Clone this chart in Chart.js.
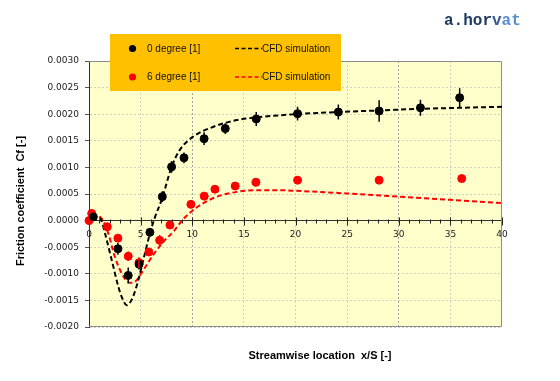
<!DOCTYPE html>
<html><head><meta charset="utf-8">
<script src="https://cdn.jsdelivr.net/npm/chart.js@4"></script>
<style>html,body{margin:0;padding:0;background:#fff;}canvas{display:block;}</style>
</head><body>
<canvas id="c" width="560" height="381"></canvas>
<script>
// ---- data ----
const seriesLabels = ['0 degree [1]', '6 degree [1]', 'CFD simulation', 'CFD simulation'];
const xTitle = 'Streamwise location  x/S [-]';
const yTitle = 'Friction coefficient  Cf [-]';
const logoText = 'a.horvat';

const exp0X = [0.42, 2.8, 3.8, 4.85, 5.9, 7.1, 8.0, 9.2, 11.15, 13.2, 16.2, 20.2, 24.15, 28.1, 32.1, 35.9];
const exp0Y = [0.00007, -0.00053, -0.00103, -0.00082, -0.00022, 0.00045, 0.00101, 0.00118, 0.00154, 0.00173, 0.00191, 0.00201, 0.00204, 0.00206, 0.00212, 0.00231];
const exp0Err = [0.00005, 0.00011, 0.00015, 0.0001, 0.00008, 0.0001, 0.00011, 0.0001, 0.00012, 0.0001, 0.00013, 0.00013, 0.00014, 0.0002, 0.00015, 0.00018];

const exp6X = [0, 0.26, 1.77, 2.8, 3.8, 4.84, 5.8, 6.84, 7.84, 9.87, 11.16, 12.2, 14.16, 16.17, 20.2, 28.1, 36.1];
const exp6Y = [0, 0.000135, -0.000117, -0.00033, -0.00067, -0.00079, -0.00059, -0.00037, -0.000085, 0.000305, 0.00046, 0.00059, 0.00065, 0.00072, 0.00076, 0.00076, 0.00079];
const exp6Err = [0, 0, 0.00003, 0.00005, 0.00009, 0.0001, 0.00005, 0.0001, 0.00005, 0, 0, 0, 0, 0, 0, 0, 0];

const cfd0X = [0.3, 0.9, 1.2, 1.55, 2.2, 2.84, 3.2, 3.65, 4.1, 4.6, 5.26, 5.9, 6.4, 7.04, 8.0, 8.8, 10.1, 12, 14.3, 16.2, 20, 24, 28, 32, 36, 40];
const cfd0Y = [0.00008, 0.00007, 0.0, -0.00024, -0.00074, -0.00124, -0.00145, -0.00159, -0.0015, -0.00124, -0.00074, -0.00024, 0.00007, 0.00039, 0.00101, 0.00133, 0.00158, 0.00176, 0.00189, 0.00194, 0.002, 0.00204, 0.00207, 0.0021, 0.00212, 0.00214];

const cfd6X = [1.0, 1.3, 1.87, 2.5, 3.16, 3.6, 3.97, 4.45, 5.26, 6.2, 7.2, 8.16, 9.0, 10.1, 12, 14.3, 16.5, 18.5, 20, 25, 30, 35, 40];
const cfd6Y = [0.00008, 0.00002, -0.00024, -0.00068, -0.00099, -0.00112, -0.00117, -0.00115, -0.00093, -0.00065, -0.0004, -0.00021, 0.0, 0.0002, 0.00042, 0.00054, 0.00057, 0.00057, 0.00056, 0.00051, 0.00045, 0.00039, 0.00033];

const xMin = 0, xMax = 40, xStep = 5, xMinorStep = 1;
const yMin = -0.002, yMax = 0.003, yStep = 0.0005;

// ---- helpers ----
const pts = (xs, ys) => xs.map((x, i) => ({x, y: ys[i]}));
const errs = [exp0Err, exp6Err];

const decorPlugin = {
  id: 'decor',
  beforeDraw(chart) {
    const {ctx, chartArea: a} = chart;
    ctx.save();
    ctx.fillStyle = '#FFFFCC';
    ctx.fillRect(a.left, a.top, a.right - a.left, a.bottom - a.top);
    ctx.restore();
  },
  beforeDatasetsDraw(chart) {
    const {ctx, chartArea: a, scales: {x, y}} = chart;
    ctx.save();
    // frame
    ctx.strokeStyle = '#8c8c8c';
    ctx.lineWidth = 1;
    ctx.beginPath();
    ctx.moveTo(a.left, a.top + 0.5);
    ctx.lineTo(a.right - 0.5, a.top + 0.5);
    ctx.lineTo(a.right - 0.5, a.bottom - 0.5);
    ctx.lineTo(a.left, a.bottom - 0.5);
    ctx.stroke();
    // x ticks (major + minor) crossing the zero axis
    const y0 = Math.round(y.getPixelForValue(0)) + 0.5;
    ctx.strokeStyle = '#222';
    ctx.beginPath();
    for (let v = xMin; v <= xMax + 1e-9; v += xMinorStep) {
      const px = Math.round(x.getPixelForValue(v)) + 0.5;
      const len = (Math.abs(v % xStep) < 1e-9) ? 4 : 2;
      ctx.moveTo(px, y0 - len);
      ctx.lineTo(px, y0 + len);
    }
    ctx.stroke();
    ctx.restore();
  },
  afterDatasetsDraw(chart) {
    const {ctx, scales: {x, y}} = chart;
    ctx.save();
    [0, 1].forEach(di => {
      const ds = chart.data.datasets[di];
      ctx.strokeStyle = ds.backgroundColor;
      ctx.lineWidth = 1.5;
      ctx.beginPath();
      ds.data.forEach((p, i) => {
        const e = errs[di][i];
        if (!e) return;
        const px = x.getPixelForValue(p.x);
        ctx.moveTo(px, y.getPixelForValue(p.y - e));
        ctx.lineTo(px, y.getPixelForValue(p.y + e));
      });
      ctx.stroke();
    });
    ctx.restore();
  },
  afterDraw(chart) {
    const {ctx, chartArea: a} = chart;
    const ds = chart.data.datasets;
    ctx.save();
    // legend box
    ctx.fillStyle = '#FFC000';
    ctx.fillRect(110, 34, 231, 57);
    ctx.font = '10px "Liberation Sans", Arial, sans-serif';
    ctx.textBaseline = 'middle';
    ctx.textAlign = 'left';
    [[0, 2, 48.5], [1, 3, 77]].forEach(([mi, li, ry]) => {
      ctx.fillStyle = ds[mi].backgroundColor;
      ctx.beginPath();
      ctx.arc(132.5, ry, 3.6, 0, Math.PI * 2);
      ctx.fill();
      ctx.fillStyle = '#111';
      ctx.fillText(ds[mi].label, 147, ry + 0.5);
      ctx.strokeStyle = ds[li].borderColor;
      ctx.lineWidth = 1.5;
      ctx.setLineDash([4, 2.5]);
      ctx.beginPath();
      ctx.moveTo(235, ry);
      ctx.lineTo(262, ry);
      ctx.stroke();
      ctx.setLineDash([]);
      ctx.fillStyle = '#111';
      ctx.fillText(ds[li].label, 262, ry + 0.5);
    });
    // axis titles
    ctx.fillStyle = '#000';
    ctx.font = 'bold 11px "Liberation Sans", Arial, sans-serif';
    ctx.textAlign = 'center';
    ctx.fillText(xTitle, 320, 356);
    ctx.save();
    ctx.translate(21, 201);
    ctx.rotate(-Math.PI / 2);
    ctx.fillText(yTitle, 0, 0);
    ctx.restore();
    // logo
    ctx.font = 'bold 16px "Liberation Mono", "Courier New", monospace';
    ctx.textAlign = 'left';
    const parts = [['a.hor', '#1F3A60'], ['v', '#34598F'], ['at', '#5A8ED3']];
    let lx = 444;
    parts.forEach(([t, c]) => {
      ctx.fillStyle = c;
      ctx.fillText(t, lx, 20.5);
      lx += ctx.measureText(t).width;
    });
    ctx.restore();
  }
};

new Chart(document.getElementById('c'), {
  data: {
    datasets: [
      {type: 'scatter', label: seriesLabels[0], data: pts(exp0X, exp0Y), backgroundColor: '#000000', borderColor: '#000000', pointRadius: 4, pointHoverRadius: 4, clip: false, order: 1},
      {type: 'scatter', label: seriesLabels[1], data: pts(exp6X, exp6Y), backgroundColor: '#FF0000', borderColor: '#FF0000', pointRadius: 4, pointHoverRadius: 4, clip: false, order: 1},
      {type: 'line', label: seriesLabels[2], data: pts(cfd0X, cfd0Y), borderColor: '#000000', backgroundColor: '#000000', borderWidth: 2, borderDash: [5, 3], pointRadius: 0, cubicInterpolationMode: 'monotone', fill: false, order: 2},
      {type: 'line', label: seriesLabels[3], data: pts(cfd6X, cfd6Y), borderColor: '#FF0000', backgroundColor: '#FF0000', borderWidth: 2, borderDash: [5, 3], pointRadius: 0, cubicInterpolationMode: 'monotone', fill: false, order: 2}
    ]
  },
  options: {
    responsive: false,
    animation: false,
    events: [],
    layout: {padding: {left: 0, top: 61, right: 58, bottom: 54}},
    plugins: {legend: {display: false}, tooltip: {enabled: false}},
    scales: {
      x: {
        type: 'linear',
        position: {y: 0},
        min: xMin, max: xMax,
        ticks: {stepSize: xStep, color: '#1a1a1a', padding: 5, maxRotation: 0, font: {family: '"DejaVu Sans", Verdana, sans-serif', size: 9}},
        grid: {
          color: (c) => {
            const v = c.tick ? c.tick.value : null;
            if (v === xMin || v === xMax) return 'rgba(0,0,0,0)';
            if (v === 10 || v === 30) return '#a0a0a0';
            return '#d0d0c0';
          },
          tickColor: 'rgba(0,0,0,0)', tickLength: 4
        },
        border: {display: true, color: '#303030', width: 1, dash: [2, 2]}
      },
      y: {
        type: 'linear',
        position: 'left',
        min: yMin, max: yMax,
        afterFit: (s) => { s.width = 89; },
        ticks: {
          stepSize: yStep, color: '#1a1a1a', padding: 6,
          font: {family: '"DejaVu Sans", Verdana, sans-serif', size: 9},
          callback: (v) => (Math.abs(v) < 1e-12 ? 0 : v).toFixed(4)
        },
        grid: {color: '#d0d0c0', tickColor: '#555555', tickLength: 4},
        border: {display: true, color: '#303030', width: 1, dash: [2, 2]}
      }
    }
  },
  plugins: [decorPlugin]
});
</script>
</body></html>
